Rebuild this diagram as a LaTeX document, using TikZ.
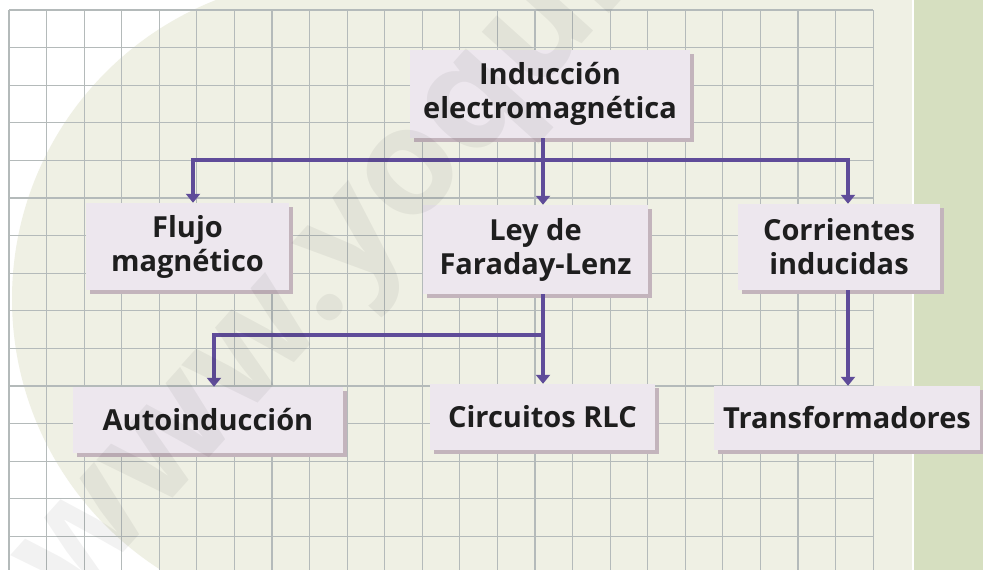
\documentclass[tikz,border=0pt]{standalone}
\usepackage{fontspec}
\setmainfont{Open Sans}
\usepackage{xcolor}
\usepackage{tikz}
\usetikzlibrary{arrows.meta,positioning,shadows}

\definecolor{paleback}{HTML}{EFF0E4}
\definecolor{stripgreen}{HTML}{D6DFC0}
\definecolor{gridgray}{HTML}{B4BABA}
\definecolor{boxfill}{HTML}{EDE7EE}
\definecolor{boxshadow}{HTML}{C3B4BC}
\definecolor{linkpurple}{HTML}{5F4C99}
\definecolor{textdark}{HTML}{1E1E1E}

\begin{document}
\begin{tikzpicture}[
  x=1pt, y=-1pt,
  box/.style={fill=boxfill, align=center, inner sep=0pt, text=textdark,
    font=\fontsize{29}{34}\selectfont\bfseries,
    drop shadow={shadow xshift=3.5pt, shadow yshift=-3.5pt, fill=boxshadow, opacity=1}},
  link/.style={draw=linkpurple, line width=3.2pt},
  arr/.style={link, -{Triangle[width=14pt,length=9pt]}}
]
  \useasboundingbox (0,0) rectangle (983,570);
  \fill[white] (0,0) rectangle (983,570);
  \fill[paleback] (333,299) circle[radius=321];
  \fill[paleback] (333,0) rectangle (913,570);
  \fill[stripgreen] (913,0) rectangle (983,570);
  \draw[white, line width=1.5pt] (913,0) -- (913,570);

  \foreach \i in {0,...,23}
    \draw[gridgray, line width=1.2pt] (9+37.57*\i,10) -- (9+37.57*\i,570);
  \foreach \j in {0,...,14}
    \draw[gridgray, line width=1.2pt] (9,10+37.6*\j) -- (873,10+37.6*\j);

  \coordinate (hubtop) at (543,160);
  \coordinate (hubley) at (543,335);

  \node[box, minimum width=280pt, minimum height=88pt] (ind) at (550,94) {Inducción\\electromagnética};
  \node[box, minimum width=203pt, minimum height=87pt] (flujo) at (187.5,246.5) {Flujo\\magnético};
  \node[box, minimum width=225pt, minimum height=89pt] (ley) at (535.5,249.5) {Ley de\\Faraday-Lenz};
  \node[box, minimum width=202pt, minimum height=86pt] (corr) at (839,247) {Corrientes\\inducidas};
  \node[box, minimum width=270pt, minimum height=66pt] (auto) at (208,420) {Autoinducción};
  \node[box, minimum width=225pt, minimum height=66pt] (circ) at (542.5,417) {Circuitos RLC};
  \node[box, minimum width=266pt, minimum height=64pt] (trans) at (847,418) {Transformadores};

  \draw[link] (ind.south -| hubtop) -- (hubtop);
  \draw[arr] (hubtop) -| ([xshift=5.5pt]flujo.north);
  \draw[arr] (hubtop) -| ([xshift=9pt]corr.north);
  \draw[arr] (hubtop) -- (ley.north -| hubtop);
  \draw[link] (ley.south -| hubley) -- (hubley);
  \draw[arr] (hubley) -| ([xshift=6pt]auto.north);
  \draw[arr] (hubley) -- (circ.north -| hubley);
  \draw[arr] ([xshift=9pt]corr.south) -- ([xshift=9pt]corr.south |- trans.north);

  \node[anchor=base west, rotate=48, text=black, opacity=0.05, inner sep=0pt,
    font=\fontsize{150}{150}\selectfont\bfseries] (marca) at (70,612) {www.yoquieroaprobar.es};
\end{tikzpicture}
\end{document}
